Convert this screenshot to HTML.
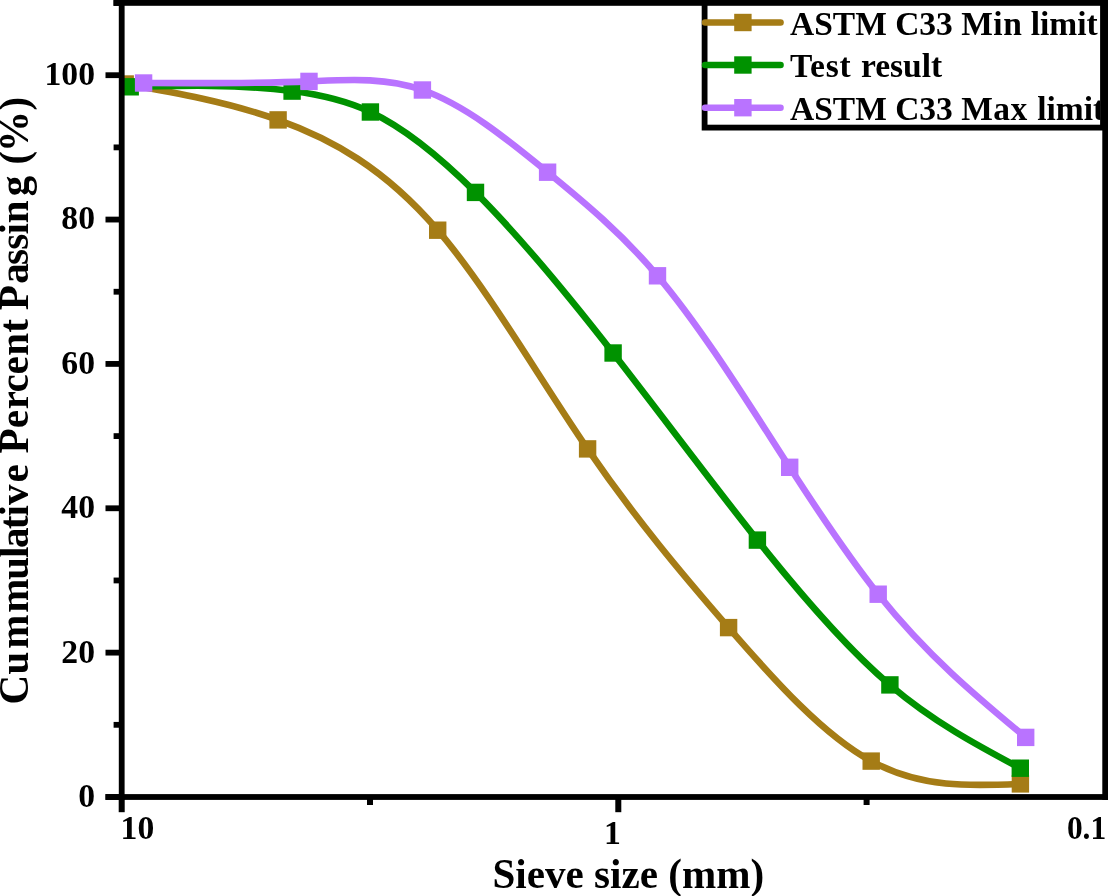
<!DOCTYPE html><html><head><meta charset="utf-8"><title>Sieve analysis</title>
<style>html,body{margin:0;padding:0;background:#fff;overflow:hidden}svg{display:block}text{font-family:"Liberation Serif","Times New Roman",serif;font-weight:bold;fill:#000}</style></head><body>
<svg style="will-change:transform" width="1108" height="896" viewBox="0 0 1108 896">
<rect width="1108" height="896" fill="#fff"/>
<defs><clipPath id="pc"><rect x="121.7" y="0" width="990" height="800"/></clipPath></defs>
<g clip-path="url(#pc)">
<path d="M125.20 84.00 C176.17 92.85 227.13 101.70 278.10 119.90 C331.30 138.90 384.50 168.09 437.70 230.20 C487.67 288.53 537.63 375.90 587.60 448.90 C634.60 517.56 681.60 573.51 728.60 627.60 C776.13 682.31 823.67 735.12 871.20 761.10 C920.93 788.28 970.67 786.09 1020.40 783.90" fill="none" stroke="#A57C16" stroke-width="6.60" stroke-linejoin="round"/>
<rect x="116.50" y="75.30" width="17.40" height="17.40" fill="#A57C16"/><rect x="269.40" y="111.20" width="17.40" height="17.40" fill="#A57C16"/><rect x="429.00" y="221.50" width="17.40" height="17.40" fill="#A57C16"/><rect x="578.90" y="440.20" width="17.40" height="17.40" fill="#A57C16"/><rect x="719.90" y="618.90" width="17.40" height="17.40" fill="#A57C16"/><rect x="862.50" y="752.40" width="17.40" height="17.40" fill="#A57C16"/><rect x="1011.70" y="775.20" width="17.40" height="17.40" fill="#A57C16"/>
<path d="M130.20 86.80 C184.17 85.48 238.13 84.16 292.10 91.10 C318.20 94.46 344.30 99.75 370.40 112.00 C405.43 128.45 440.47 157.45 475.50 192.40 C521.37 238.16 567.23 294.13 613.10 353.00 C661.20 414.73 709.30 479.65 757.40 540.10 C801.57 595.61 845.73 647.36 889.90 684.90 C933.37 721.84 976.83 745.02 1020.30 768.20" fill="none" stroke="#009200" stroke-width="6.60" stroke-linejoin="round"/>
<rect x="121.50" y="78.10" width="17.40" height="17.40" fill="#009200"/><rect x="283.40" y="82.40" width="17.40" height="17.40" fill="#009200"/><rect x="361.70" y="103.30" width="17.40" height="17.40" fill="#009200"/><rect x="466.80" y="183.70" width="17.40" height="17.40" fill="#009200"/><rect x="604.40" y="344.30" width="17.40" height="17.40" fill="#009200"/><rect x="748.70" y="531.40" width="17.40" height="17.40" fill="#009200"/><rect x="881.20" y="676.20" width="17.40" height="17.40" fill="#009200"/><rect x="1011.60" y="759.50" width="17.40" height="17.40" fill="#009200"/>
<path d="M143.60 83.00 C198.73 83.35 253.87 83.71 309.00 81.40 C346.80 79.82 384.60 76.98 422.40 90.00 C464.13 104.37 505.87 138.08 547.60 172.20 C584.23 202.15 620.87 232.43 657.50 275.80 C701.57 327.97 745.63 399.10 789.70 467.30 C819.20 512.95 848.70 557.30 878.20 594.20 C927.37 655.71 976.53 696.55 1025.70 737.40" fill="none" stroke="#B973FF" stroke-width="6.60" stroke-linejoin="round"/>
<rect x="134.90" y="74.30" width="17.40" height="17.40" fill="#B973FF"/><rect x="300.30" y="72.70" width="17.40" height="17.40" fill="#B973FF"/><rect x="413.70" y="81.30" width="17.40" height="17.40" fill="#B973FF"/><rect x="538.90" y="163.50" width="17.40" height="17.40" fill="#B973FF"/><rect x="648.80" y="267.10" width="17.40" height="17.40" fill="#B973FF"/><rect x="781.00" y="458.60" width="17.40" height="17.40" fill="#B973FF"/><rect x="869.50" y="585.50" width="17.40" height="17.40" fill="#B973FF"/><rect x="1017.00" y="728.70" width="17.40" height="17.40" fill="#B973FF"/>
</g>
<g fill="#000">
<rect x="118.80" y="0.00" width="5.80" height="799.90"/>
<rect x="1102.30" y="0.00" width="7.70" height="799.90"/>
<rect x="113.50" y="0.00" width="994.50" height="5.80"/>
<rect x="105.50" y="794.10" width="1002.50" height="5.80"/>
<rect x="105.50" y="794.10" width="16.20" height="5.80"/>
<rect x="113.60" y="721.92" width="8.10" height="5.80"/>
<rect x="105.50" y="649.74" width="16.20" height="5.80"/>
<rect x="113.60" y="577.56" width="8.10" height="5.80"/>
<rect x="105.50" y="505.38" width="16.20" height="5.80"/>
<rect x="113.60" y="433.20" width="8.10" height="5.80"/>
<rect x="105.50" y="361.02" width="16.20" height="5.80"/>
<rect x="113.60" y="288.84" width="8.10" height="5.80"/>
<rect x="105.50" y="216.66" width="16.20" height="5.80"/>
<rect x="113.60" y="144.48" width="8.10" height="5.80"/>
<rect x="105.50" y="72.30" width="16.20" height="5.80"/>
<rect x="113.60" y="0.12" width="8.10" height="5.80"/>
<rect x="118.70" y="797.00" width="6.00" height="15.20"/>
<rect x="615.30" y="797.00" width="6.00" height="15.20"/>
<rect x="367.00" y="797.00" width="6.00" height="8.00"/>
<rect x="863.60" y="797.00" width="6.00" height="8.00"/>
</g>
<text transform="translate(95.00 806.90) scale(0.9900 1)" font-size="34.00" text-anchor="end">0</text>
<text transform="translate(95.00 662.54) scale(0.9900 1)" font-size="34.00" text-anchor="end">20</text>
<text transform="translate(95.00 518.18) scale(0.9900 1)" font-size="34.00" text-anchor="end">40</text>
<text transform="translate(95.00 373.82) scale(0.9900 1)" font-size="34.00" text-anchor="end">60</text>
<text transform="translate(95.00 229.46) scale(0.9900 1)" font-size="34.00" text-anchor="end">80</text>
<text transform="translate(95.00 85.10) scale(0.9900 1)" font-size="34.00" text-anchor="end">100</text>
<text transform="translate(120.60 838.70) scale(0.9900 1)" font-size="34.00" text-anchor="start">10</text>
<text transform="translate(612.50 843.90) scale(0.9900 1)" font-size="34.00" text-anchor="middle">1</text>
<text transform="translate(1106.20 838.70) scale(0.9250 1)" font-size="34.00" text-anchor="end">0.1</text>
<text transform="translate(628.30 888.40) scale(0.9700 1)" font-size="42.40" text-anchor="middle">Sieve size (mm)</text>
<text transform="translate(27.60 703.20) rotate(-90) scale(0.9933 1)" font-size="41.30" text-anchor="start" dx="-1.4 0.6 2.7 2.0 -1.2 -1.2 -1.2 -1.8 -1.0 0.1 2.1 0.3 0.2 0.1 0.7 -0.5 -0.3 0.5 0.2 -0.9 -0.6 1.6 -2.0 -0.7 -0.6 -0.2 4.3 0.2 0.6 -1.2 0.5">Cummulative Percent Passing (%)</text>
<rect x="704.60" y="2.9" width="398.40" height="124.70" fill="#fff" stroke="#000" stroke-width="5.8"/>
<defs><clipPath id="lc"><rect x="700" y="0" width="400.2" height="131"/></clipPath></defs>
<g clip-path="url(#lc)">
<line x1="705.0" y1="22.50" x2="780.6" y2="22.50" stroke="#A57C16" stroke-width="6.4" stroke-linecap="round"/>
<rect x="734.20" y="13.80" width="17.40" height="17.40" fill="#A57C16"/>
<text x="790.0" y="34.70" font-size="33.5">ASTM C33 <tspan letter-spacing="0.5">Min</tspan> limit</text>
<line x1="705.0" y1="65.00" x2="780.6" y2="65.00" stroke="#009200" stroke-width="6.4" stroke-linecap="round"/>
<rect x="734.20" y="56.30" width="17.40" height="17.40" fill="#009200"/>
<text x="790.0" y="77.20" font-size="33.5"><tspan letter-spacing="0.75">Test</tspan><tspan dx="1.2"> result</tspan></text>
<line x1="705.0" y1="107.70" x2="780.6" y2="107.70" stroke="#B973FF" stroke-width="6.4" stroke-linecap="round"/>
<rect x="734.20" y="99.00" width="17.40" height="17.40" fill="#B973FF"/>
<text x="790.0" y="119.90" font-size="33.5">ASTM C33 <tspan letter-spacing="0.5">Max</tspan><tspan dx="0.9"> limit</tspan></text>
</g>
</svg></body></html>
